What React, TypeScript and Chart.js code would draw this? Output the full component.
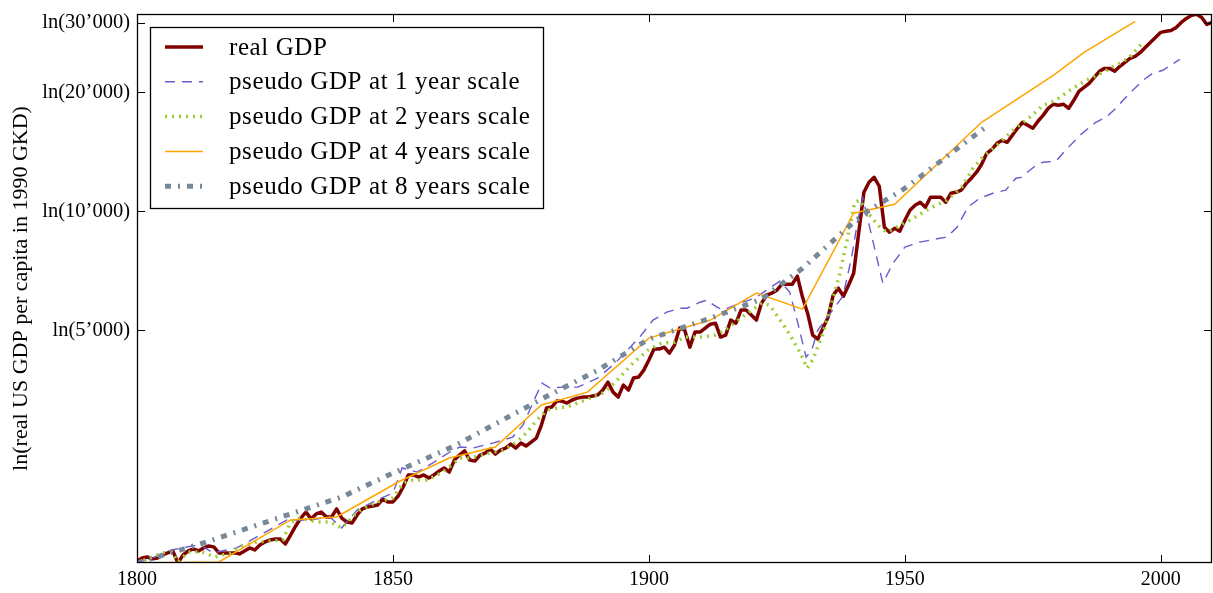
import React, { useEffect, useRef } from "react";
import { Chart, registerables } from "chart.js";

Chart.register(...registerables);

// ---------- data (values are ln of real US GDP per capita, 1990 GK$) ----------
const seriesLabels = [
  "real GDP",
  "pseudo GDP at 1 year scale",
  "pseudo GDP at 2 years scale",
  "pseudo GDP at 4 years scale",
  "pseudo GDP at 8 years scale",
];

const realStartYear = 1800;
const realGDP = [
  // 1800-1809
  7.172, 7.189, 7.195, 7.184, 7.189, 7.207, 7.219, 7.23, 7.16, 7.207,
  // 1810-1819
  7.23, 7.242, 7.23, 7.248, 7.259, 7.254, 7.219, 7.219, 7.219, 7.219,
  // 1820-1829
  7.213, 7.23, 7.248, 7.236, 7.265, 7.283, 7.294, 7.3, 7.3, 7.271,
  // 1830-1839
  7.323, 7.376, 7.422, 7.457, 7.417, 7.446, 7.457, 7.428, 7.428, 7.475,
  // 1840-1849
  7.422, 7.399, 7.393, 7.44, 7.475, 7.486, 7.492, 7.498, 7.533, 7.516,
  // 1850-1859
  7.516, 7.55, 7.603, 7.673, 7.673, 7.661, 7.673, 7.655, 7.673, 7.696,
  // 1860-1869
  7.714, 7.69, 7.76, 7.789, 7.813, 7.76, 7.754, 7.789, 7.801, 7.824,
  // 1870-1879
  7.795, 7.818, 7.83, 7.853, 7.83, 7.859, 7.842, 7.865, 7.888, 7.964,
  // 1880-1889
  8.063, 8.069, 8.104, 8.104, 8.092, 8.11, 8.121, 8.127, 8.127, 8.133,
  // 1890-1899
  8.139, 8.168, 8.214, 8.156, 8.127, 8.197, 8.168, 8.238, 8.244, 8.284,
  // 1900-1909
  8.343, 8.407, 8.407, 8.418, 8.383, 8.43, 8.529, 8.517, 8.418, 8.506,
  // 1910-1919
  8.506, 8.529, 8.552, 8.558, 8.477, 8.488, 8.576, 8.558, 8.634, 8.634,
  // 1920-1929
  8.605, 8.576, 8.675, 8.721, 8.733, 8.75, 8.785, 8.785, 8.785, 8.832,
  // 1930-1939
  8.71, 8.616, 8.488, 8.465, 8.529, 8.593, 8.721, 8.762, 8.715, 8.779,
  // 1940-1949
  8.849, 9.088, 9.321, 9.379, 9.408, 9.356, 9.117, 9.088, 9.111, 9.094,
  // 1950-1959
  9.158, 9.216, 9.245, 9.263, 9.234, 9.292, 9.292, 9.292, 9.263, 9.315,
  // 1960-1969
  9.321, 9.333, 9.373, 9.403, 9.438, 9.484, 9.548, 9.571, 9.606, 9.624,
  // 1970-1979
  9.612, 9.653, 9.694, 9.729, 9.711, 9.694, 9.735, 9.769, 9.81, 9.834,
  // 1980-1989
  9.828, 9.834, 9.81, 9.857, 9.909, 9.932, 9.956, 9.991, 10.026, 10.043,
  // 1990-1999
  10.043, 10.026, 10.055, 10.078, 10.101, 10.113, 10.136, 10.166, 10.195, 10.224,
  // 2000-2009
  10.253, 10.259, 10.264, 10.282, 10.311, 10.334, 10.352, 10.358, 10.34, 10.299,
  // 2010
  10.311,
];

const scale1Years = [
  1800, 1803.5, 1806.8, 1811.7, 1812.7, 1814.8, 1819.5, 1823.4, 1829.3, 1833.8,
  1837.7, 1840, 1843, 1846.9, 1850, 1851.8, 1854.7, 1857.8, 1861.1, 1863.1,
  1865.6, 1869.5, 1873.4, 1875.4, 1877.3, 1879.1, 1880.7, 1883.2, 1886.1, 1890,
  1893.4, 1898.2, 1900.8, 1903.5, 1906.1, 1907.4, 1910, 1911.3, 1913.3, 1914.5,
  1917.8, 1920.7, 1925.6, 1927.5, 1929.1, 1930.7, 1931.8, 1933, 1936.9, 1937.9,
  1939.6, 1940.8, 1941.8, 1944.5, 1945.7, 1947.7, 1950, 1952.9, 1956.8, 1958.2,
  1960.2, 1962.3, 1964.6, 1967.2, 1969.7, 1971.7, 1972.7, 1975.6, 1977, 1979.5,
  1981.4, 1984.2, 1987.3, 1989.3, 1991.2, 1993.9, 1996.5, 1998.4, 2000.4, 2003.7,
];
const scale1Values = [
  7.16, 7.195, 7.236, 7.265, 7.259, 7.219, 7.248, 7.312, 7.411, 7.411,
  7.428, 7.364, 7.469, 7.527, 7.568, 7.714, 7.69, 7.743, 7.807, 7.836,
  7.83, 7.859, 7.894, 7.964, 8.092, 8.209, 8.18, 8.185, 8.185, 8.238,
  8.325, 8.477, 8.576, 8.622, 8.645, 8.645, 8.68, 8.692, 8.651, 8.634,
  8.675, 8.704, 8.803, 8.739, 8.558, 8.36, 8.401, 8.517, 8.675, 8.715,
  8.942, 9.158, 9.286, 8.942, 8.791, 8.908, 9.001, 9.03, 9.053, 9.059,
  9.117, 9.234, 9.286, 9.315, 9.333, 9.403, 9.408, 9.478, 9.496, 9.502,
  9.566, 9.653, 9.729, 9.758, 9.81, 9.898, 9.973, 10.014, 10.032, 10.096,
];

const scale2Years = [
  1800, 1805, 1806.8, 1808, 1810, 1812.7, 1815.2, 1818.2, 1820.1, 1823.4,
  1828.5, 1829.9, 1831.8, 1835.2, 1837.7, 1840, 1843, 1846.9, 1850, 1852,
  1853.9, 1856.6, 1859.8, 1863.1, 1865, 1869, 1871.5, 1874.2, 1876.2, 1878.1,
  1880.1, 1882, 1884, 1888.5, 1891.4, 1893.8, 1896.9, 1899.8, 1902.5, 1905.1,
  1907, 1910.4, 1912.9, 1914.8, 1918.2, 1920.1, 1922.1, 1923.6, 1927, 1929.5,
  1930.9, 1932, 1934, 1935.7, 1937.3, 1938.7, 1940.2, 1941.2, 1942.8, 1945.1,
  1946.5, 1951, 1954.9, 1958.2, 1961.1, 1963.3, 1965.2, 1968, 1971.1, 1974.4,
  1977, 1979.5, 1982.2, 1985.4, 1988.7, 1991.2, 1993.9, 1996.5,
];
const scale2Values = [
  7.16, 7.219, 7.224, 7.166, 7.224, 7.224, 7.195, 7.219, 7.254, 7.283,
  7.294, 7.393, 7.422, 7.399, 7.399, 7.364, 7.457, 7.516, 7.539, 7.626,
  7.644, 7.644, 7.69, 7.772, 7.772, 7.801, 7.818, 7.865, 7.923, 7.993,
  8.051, 8.063, 8.069, 8.121, 8.156, 8.226, 8.325, 8.401, 8.442, 8.447,
  8.477, 8.477, 8.488, 8.517, 8.593, 8.634, 8.675, 8.663, 8.517, 8.389,
  8.296, 8.343, 8.5, 8.675, 8.849, 9.041, 9.263, 9.274, 9.199, 9.117,
  9.088, 9.158, 9.228, 9.274, 9.35, 9.461, 9.525, 9.595, 9.682, 9.758,
  9.828, 9.857, 9.915, 9.973, 10.02, 10.061, 10.107, 10.195,
];

const scale4Years = [
  1800, 1816, 1830, 1839, 1851, 1861, 1870, 1879, 1888, 1900,
  1912, 1921, 1930, 1940, 1948, 1965, 1979, 1985, 1995,
];
const scale4Values = [
  7.16, 7.166, 7.411, 7.428, 7.632, 7.772, 7.836, 8.081, 8.156, 8.471,
  8.576, 8.733, 8.64, 9.199, 9.251, 9.729, 10.002, 10.136, 10.317,
];

const scale8Years = [
  1800, 1813, 1830, 1840, 1850, 1862, 1879, 1890, 1900, 1912,
  1922, 1930, 1940, 1943, 1950, 1966.5,
];
const scale8Values = [
  7.16, 7.277, 7.446, 7.545, 7.684, 7.842, 8.115, 8.284, 8.465, 8.587,
  8.698, 8.878, 9.146, 9.216, 9.344, 9.717,
];

const xMin = 1800;
const xMax = 2010;
const yMin = 7.16;
const yMax = 10.36;
const xTickValues = [1800, 1850, 1900, 1950, 2000];
const yTickValues = [Math.log(5000), Math.log(10000), Math.log(20000), Math.log(30000)];
const yTickLabels = ["ln(5’000)", "ln(10’000)", "ln(20’000)", "ln(30’000)"];
const yAxisTitle = "ln(real US GDP per capita in 1990 GKD)";

// ---------- helpers ----------
const toPoints = (xs: number[], ys: number[]) => xs.map((x, i) => ({ x, y: ys[i] }));
const realYears = realGDP.map((_, i) => realStartYear + i);

const FONT = '"Liberation Serif", "Times New Roman", serif';

const framePlugin = {
  id: "frameTicks",
  afterDatasetsDraw(chart: any) {
    const { ctx, chartArea } = chart;
    const { left, right, top, bottom } = chartArea;
    const xs = chart.scales.x;
    const ys = chart.scales.y;
    const len = 8;
    ctx.save();
    ctx.strokeStyle = "#000";
    ctx.lineWidth = 1;
    ctx.beginPath();
    xs.ticks.forEach((t: any) => {
      const px = Math.round(xs.getPixelForValue(t.value)) + 0.5;
      ctx.moveTo(px, bottom);
      ctx.lineTo(px, bottom - len);
      ctx.moveTo(px, top);
      ctx.lineTo(px, top + len);
    });
    ys.ticks.forEach((t: any) => {
      const py = Math.round(ys.getPixelForValue(t.value)) + 0.5;
      ctx.moveTo(left, py);
      ctx.lineTo(left + len, py);
      ctx.moveTo(right, py);
      ctx.lineTo(right - len, py);
    });
    ctx.stroke();
    ctx.lineWidth = 1.3;
    ctx.strokeRect(left + 0.5, top + 0.5, right - left - 1, bottom - top - 1);
    ctx.restore();
  },
};

const boxLegendPlugin = {
  id: "boxLegend",
  afterDraw(chart: any) {
    const { ctx, chartArea } = chart;
    const x0 = chartArea.left + 13;
    const y0 = chartArea.top + 13;
    const w = 393;
    const rowH = 34.8;
    const h = 181;
    ctx.save();
    ctx.fillStyle = "#fff";
    ctx.fillRect(x0, y0, w, h);
    ctx.strokeStyle = "#000";
    ctx.lineWidth = 1.3;
    ctx.strokeRect(x0 + 0.5, y0 + 0.5, w, h);
    chart.data.datasets.forEach((ds: any, i: number) => {
      const cy = y0 + 20 + i * rowH;
      ctx.save();
      ctx.strokeStyle = ds.borderColor;
      ctx.lineWidth = ds.borderWidth;
      ctx.setLineDash(ds.borderDash || []);
      ctx.lineCap = "butt";
      ctx.beginPath();
      ctx.moveTo(x0 + 15, cy);
      ctx.lineTo(x0 + 53, cy);
      ctx.stroke();
      ctx.restore();
      ctx.save();
      ctx.fillStyle = "#000";
      ctx.font = `25px ${FONT}`;
      try {
        (ctx as any).letterSpacing = "0.6px";
      } catch (e) {}
      ctx.textBaseline = "middle";
      ctx.textAlign = "left";
      ctx.fillText(ds.label, x0 + 79, cy + 1);
      ctx.restore();
    });
    ctx.restore();
  },
};

export default function App() {
  const canvasRef = useRef<HTMLCanvasElement>(null);

  useEffect(() => {
    document.body.style.margin = "0";
    const canvas = canvasRef.current;
    if (!canvas) return;
    const chart = new Chart(canvas, {
      type: "line",
      data: {
        datasets: [
          {
            label: seriesLabels[0],
            data: toPoints(realYears, realGDP),
            borderColor: "#800000",
            borderWidth: 3.5,
            pointRadius: 0,
            order: 5,
            borderJoinStyle: "round",
          },
          {
            label: seriesLabels[1],
            data: toPoints(scale1Years, scale1Values),
            borderColor: "#6a5acd",
            borderWidth: 1.4,
            borderDash: [10, 7],
            pointRadius: 0,
            order: 4,
          },
          {
            label: seriesLabels[2],
            data: toPoints(scale2Years, scale2Values),
            borderColor: "#9acd32",
            borderWidth: 3.5,
            borderDash: [2, 5],
            pointRadius: 0,
            order: 3,
          },
          {
            label: seriesLabels[3],
            data: toPoints(scale4Years, scale4Values),
            borderColor: "#ffa500",
            borderWidth: 1.5,
            pointRadius: 0,
            order: 2,
          },
          {
            label: seriesLabels[4],
            data: toPoints(scale8Years, scale8Values),
            borderColor: "#778899",
            borderWidth: 5,
            borderDash: [6, 7, 2, 7],
            pointRadius: 0,
            order: 1,
          },
        ],
      },
      options: {
        animation: false,
        responsive: false,
        maintainAspectRatio: false,
        layout: { padding: { top: 14, right: 1, left: 0, bottom: 0 } },
        plugins: {
          legend: { display: false },
          tooltip: { enabled: false },
          title: { display: false },
        },
        scales: {
          x: {
            type: "linear",
            min: xMin,
            max: xMax,
            grid: { display: false, drawTicks: false },
            border: { display: false },
            afterBuildTicks: (s: any) => {
              s.ticks = xTickValues.map((v) => ({ value: v }));
            },
            afterFit: (s: any) => {
              s.height = 30;
              s.paddingLeft = 0;
              s.paddingRight = 0;
            },
            ticks: {
              padding: 5,
              color: "#000",
              font: { family: FONT, size: 20 },
              maxRotation: 0,
              autoSkip: false,
              callback: (v: any) => String(v),
            },
          },
          y: {
            type: "linear",
            min: yMin,
            max: yMax,
            grid: { display: false, drawTicks: false },
            border: { display: false },
            afterBuildTicks: (s: any) => {
              s.ticks = yTickValues.map((v) => ({ value: v }));
            },
            afterFit: (s: any) => {
              s.width = 137;
              s.paddingTop = 0;
              s.paddingBottom = 0;
            },
            ticks: {
              padding: 7,
              color: "#000",
              font: { family: FONT, size: 20.5 },
              autoSkip: false,
              callback: (_v: any, i: number) => yTickLabels[i],
            },
            title: {
              display: true,
              text: yAxisTitle,
              color: "#000",
              font: { family: FONT, size: 22 },
              padding: { top: 8, bottom: 0 },
            },
          },
        },
      } as any,
      plugins: [framePlugin, boxLegendPlugin],
    });
    return () => chart.destroy();
  }, []);

  return (
    <div style={{ width: 1213, height: 593 }}>
      <canvas ref={canvasRef} width={1213} height={593} style={{ display: "block" }} />
    </div>
  );
}
